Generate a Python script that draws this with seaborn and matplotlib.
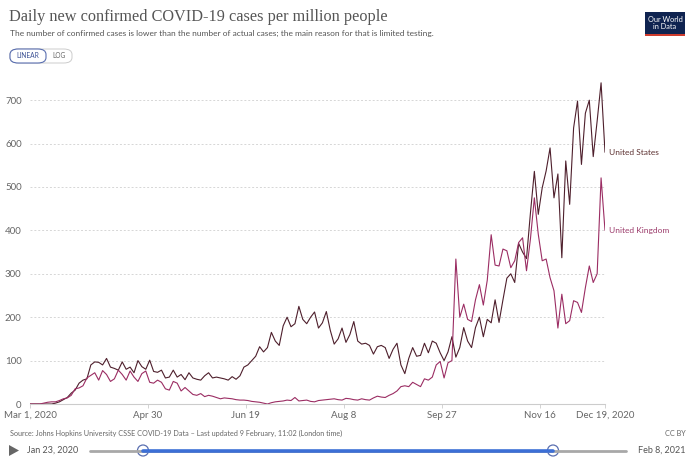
import numpy as np
import pandas as pd
import seaborn as sns
import matplotlib.pyplot as plt
from matplotlib.patches import FancyBboxPatch, Rectangle, Ellipse, Polygon

# daily new confirmed cases per million, read every 2 days (Feb 29 .. Dec 19, 2020)
us_cases = [
    0, 0, 0, 0, 0, 0, 0, 2, 5, 10,
    15, 25, 32, 48, 55, 58, 90, 97, 96, 90,
    105, 85, 82, 78, 97, 80, 85, 72, 100, 86,
    80, 101, 75, 73, 78, 60, 62, 78, 62, 68,
    56, 72, 60, 57, 55, 65, 72, 60, 62, 60,
    58, 55, 63, 57, 65, 85, 90, 100, 110, 132,
    120, 130, 165, 145, 135, 180, 200, 178, 185, 225,
    195, 185, 200, 212, 175, 187, 213, 170, 138, 150,
    175, 142, 160, 190, 145, 138, 140, 135, 115, 132,
    135, 130, 105, 126, 140, 90, 70, 105, 130, 110,
    112, 140, 118, 145, 140, 118, 100, 120, 155, 108,
    130, 176, 145, 130, 176, 200, 155, 195, 187, 240,
    188, 240, 290, 300, 280, 370, 350, 335, 440, 536,
    437, 498, 537, 590, 475, 530, 337, 560, 460, 636,
    698, 552, 670, 700, 570, 652, 740, 580,
]
uk_cases = [
    0, 0, 0, 0, 2, 4, 5, 5, 8, 12,
    14, 20, 35, 37, 42, 60, 66, 72, 55, 77,
    68, 52, 58, 78, 68, 55, 76, 62, 52, 70,
    76, 50, 48, 55, 50, 35, 32, 52, 48, 30,
    38, 30, 22, 20, 24, 17, 20, 18, 15, 12,
    14, 13, 12, 10, 9, 9, 8, 6, 5, 4,
    2, 0, 3, 5, 6, 7, 9, 8, 15, 7,
    8, 9, 6, 5, 8, 9, 10, 11, 12, 10,
    9, 13, 12, 10, 9, 12, 10, 9, 14, 18,
    16, 15, 20, 24, 30, 40, 42, 40, 50, 45,
    40, 58, 55, 62, 90, 98, 60, 95, 100, 334,
    200, 230, 195, 190, 240, 275, 228, 285, 390, 320,
    318, 357, 353, 314, 330, 372, 383, 307, 380, 475,
    391, 330, 334, 291, 261, 175, 253, 185, 192, 238,
    234, 211, 268, 318, 280, 300, 521, 400,
]
dates = pd.date_range(end="2020-12-19", periods=len(us_cases), freq="2D")

tick_dates = ["2020-03-01", "2020-04-30", "2020-06-19", "2020-08-08",
              "2020-09-27", "2020-11-16", "2020-12-19"]
tick_labels = ["Mar 1, 2020", "Apr 30", "Jun 19", "Aug 8", "Sep 27", "Nov 16", "Dec 19, 2020"]
y_ticks = [0, 100, 200, 300, 400, 500, 600, 700]

df = pd.concat([
    pd.DataFrame({"date": dates, "cases": us_cases, "country": "United States"}),
    pd.DataFrame({"date": dates, "cases": uk_cases, "country": "United Kingdom"}),
])
colors = {"United States": "#4e1f2c", "United Kingdom": "#9b2d63"}

sns.set_style("white")
plt.rcParams["font.family"] = ["Lato", "DejaVu Sans"]

W, H = 690, 459
fig = plt.figure(figsize=(6.9, 4.59), dpi=100)

def fx(px):
    return px / W

def fy(py):
    return 1 - py / H

ax = fig.add_axes([fx(30), fy(404), fx(575), (404 - 69.8) / H])
sns.lineplot(data=df, x="date", y="cases", hue="country", palette=colors,
             linewidth=0.8, ax=ax, legend=False)

ax.set_xlim(pd.Timestamp("2020-03-01"), pd.Timestamp("2020-12-19"))
ax.set_ylim(0, 770)
ax.set_xticks(pd.to_datetime(tick_dates))
ax.set_xticklabels(tick_labels)
ax.set_yticks(y_ticks)
ax.set_yticklabels([str(v) for v in y_ticks])
ax.set_xlabel("")
ax.set_ylabel("")
for s in ["top", "right", "left"]:
    ax.spines[s].set_visible(False)
ax.spines["bottom"].set_color("#cccccc")
ax.spines["bottom"].set_linewidth(0.8)
ax.yaxis.grid(True, linestyle=(0, (2, 2)), color="#d6d6d6", linewidth=0.7)
ax.tick_params(axis="y", length=0, pad=6, labelsize=7, labelcolor="#666666")
ax.tick_params(axis="x", length=3, width=0.6, color="#cccccc", pad=2,
               labelsize=7, labelcolor="#666666", bottom=True)
ax.set_facecolor("white")

# end labels
ax.annotate("United States", xy=(pd.Timestamp("2020-12-19"), us_cases[-1]),
            xytext=(3, 0), textcoords="offset points", va="center",
            fontsize=6, color="#5c3030", annotation_clip=False)
ax.annotate("United Kingdom", xy=(pd.Timestamp("2020-12-19"), uk_cases[-1]),
            xytext=(3, 0), textcoords="offset points", va="center",
            fontsize=6, color="#9b3a6a", annotation_clip=False)

# header
fig.text(fx(9), fy(17), "Daily new confirmed COVID-19 cases per million people",
         family=["Liberation Serif", "DejaVu Serif"], fontsize=11.7, color="#555555",
         va="center", ha="left")
fig.text(fx(10), fy(33), "The number of confirmed cases is lower than the number of actual "
         "cases; the main reason for that is limited testing.",
         fontsize=6.0, color="#555555", va="center", ha="left")

# LINEAR / LOG toggle
fig.add_artist(FancyBboxPatch((fx(10), fy(63)), fx(62), (63 - 49) / H,
                              boxstyle="round,pad=0,rounding_size=0.012",
                              transform=fig.transFigure, fc="white", ec="#cccccc", lw=0.7))
fig.add_artist(FancyBboxPatch((fx(10), fy(63)), fx(36), (63 - 49) / H,
                              boxstyle="round,pad=0,rounding_size=0.012",
                              transform=fig.transFigure, fc="white", ec="#5a6fb0", lw=0.8))
fig.text(fx(28), fy(56), "LINEAR", fontsize=4.8, color="#3d5295", ha="center", va="center")
fig.text(fx(59), fy(56), "LOG", fontsize=4.8, color="#666666", ha="center", va="center")

# logo
fig.add_artist(Rectangle((fx(645), fy(36)), fx(40), (36 - 12) / H,
                         transform=fig.transFigure, fc="#0f2350", ec="none"))
fig.add_artist(Rectangle((fx(645), fy(36)), fx(40), 2 / H,
                         transform=fig.transFigure, fc="#ce3b2d", ec="none"))
fig.text(fx(665), fy(23), "Our World\nin Data", fontsize=5.3, color="white",
         ha="center", va="center", linespacing=1.0)

# footer
fig.text(fx(10), fy(433), "Source: Johns Hopkins University CSSE COVID-19 Data \u2013 "
         "Last updated 9 February, 11:02 (London time)",
         fontsize=5.2, color="#666666", va="center", ha="left")
fig.text(fx(686), fy(433), "CC BY", fontsize=5.2, color="#666666", va="center", ha="right")

# timeline
fig.add_artist(Polygon([(fx(9), fy(445)), (fx(9), fy(456)), (fx(19), fy(450.5))],
                       closed=True, transform=fig.transFigure, fc="#666666", ec="none"))
fig.text(fx(27), fy(450.5), "Jan 23, 2020", fontsize=6.5, color="#555555", va="center", ha="left")
fig.text(fx(686), fy(450.5), "Feb 8, 2021", fontsize=6.5, color="#555555", va="center", ha="right")
fig.add_artist(plt.Line2D([fx(90), fx(626)], [fy(450.5), fy(450.5)],
                          transform=fig.transFigure, color="#a8a8a8", lw=2.0,
                          solid_capstyle="round"))
fig.add_artist(plt.Line2D([fx(143), fx(553)], [fy(450.5), fy(450.5)],
                          transform=fig.transFigure, color="#3c6fd6", lw=2.6))
for hx in (143, 553):
    fig.add_artist(Ellipse((fx(hx), fy(450.5)), 11 / W, 11 / H,
                           transform=fig.transFigure, fc="white", ec="#5a6fb0", lw=0.9))

fig.savefig("out.png", dpi=100, facecolor="white")
